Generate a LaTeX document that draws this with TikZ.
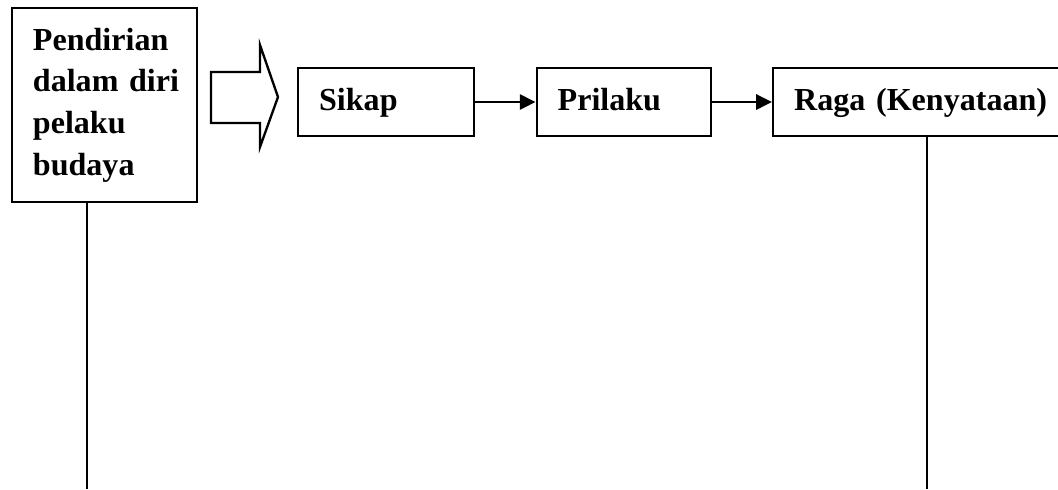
\documentclass[tikz,border=0pt]{standalone}
\usepackage{fontspec}
\setmainfont{Liberation Serif}
\usetikzlibrary{arrows.meta,positioning}
\begin{document}
\begin{tikzpicture}[
     x=0.01206cm, y=-0.01206cm,
     box/.style={draw,line width=0.8pt,minimum height=0.82cm,inner xsep=0.253cm,
       align=left,font=\fontsize{11}{14.3}\selectfont\bfseries},
     single/.style={text height=8.5pt,text depth=3pt},
     link/.style={line width=0.8pt,-{Triangle[length=5.4pt,width=5.2pt]}}
   ]
   \clip (0,0) rectangle (1058,489);
   % Boxes.
   \node[box,text width=1.725cm,minimum height=2.34cm] (pendirian) at (104.5,105)
     {Pendirian\\\mbox{dalam diri}\\pelaku\\budaya};
   \node[box,single,text width=1.617cm,anchor=west] (sikap) at (297,102) {Sikap};
   \node[box,single,text width=1.592cm,right=0.724cm of sikap] (prilaku) {Prilaku};
   \node[box,single,text width=3.6cm,right=0.724cm of prilaku] (raga) {Raga (Kenyataan)};
   % Block arrow.
   \draw[line width=0.8pt] (211,72) -- (260,72) -- (260,45) -- (278,97)
     -- (260,147) -- (260,123) -- (211,123) -- cycle;
   % Links.
   \draw[link] (sikap) -- (prilaku);
   \draw[link] (prilaku) -- (raga);
   % Lines down.
   \coordinate (pendirian end) at (87,489);
   \coordinate (raga end) at (927,489);
   \draw[line width=0.8pt] (pendirian.south -| pendirian end) -- (pendirian end);
   \draw[line width=0.8pt] (raga.south -| raga end) -- (raga end);
 \end{tikzpicture}
\end{document}
